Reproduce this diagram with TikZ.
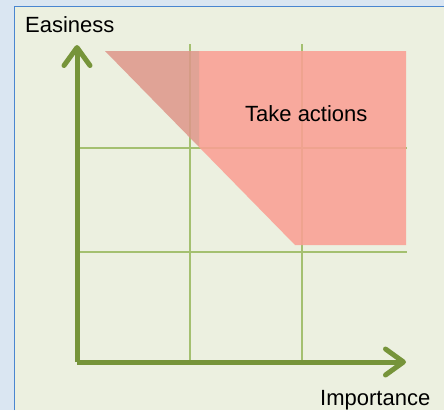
\documentclass[tikz,border=0pt]{standalone}
\usepackage{fontspec}
\setmainfont{Liberation Sans}
\usepackage{xcolor}
\usepackage{tikz}
\usetikzlibrary{arrows.meta, positioning}

\definecolor{panelbg}{RGB}{236,240,224}
\definecolor{outerbg}{RGB}{218,230,242}
\definecolor{frameblue}{RGB}{74,134,208}
\definecolor{axisgreen}{RGB}{118,148,58}
\definecolor{gridgreen}{RGB}{164,192,112}
\definecolor{zonered}{RGB}{250,160,148}
\definecolor{zonedark}{RGB}{222,150,138}

\tikzset{
    lbl/.style={font=\fontsize{22}{26}\selectfont, inner sep=0pt},
    gridline/.style={draw=gridgreen, line width=1.3pt},
    axis/.style={draw=axisgreen, line width=5pt,
        -{Straight Barb[length=18pt, width=26pt, round]}},
    zone/.style={fill=zonered, fill opacity=0.88},
}

\begin{document}
\begin{tikzpicture}[x=1pt, y=-1pt]
    \useasboundingbox (0,0) rectangle (444,410);
    % background and panel
    \fill[outerbg] (0,0) rectangle (444,410);
    \fill[panelbg] (14,6) rectangle (444,410);
    \draw[frameblue, line width=1pt] (14,410) -- (14,6) -- (444,6);

    % grid
    \draw[gridline] (190,44) -- (190,362);
    \draw[gridline] (302,44) -- (302,362);
    \draw[gridline] (80,148) -- (407,148);
    \draw[gridline] (80,252) -- (407,252);

    % action zone
    \fill[zone] (199,51) -- (406,51) -- (406,245) -- (295,245) -- (199,147) -- cycle;
    \fill[zonedark, fill opacity=0.85] (105,51) -- (199,51) -- (199,147) -- cycle;

    % axes
    \coordinate (o) at (77,362);
    \coordinate (ytip) at (77,45);
    \coordinate (xtip) at (406,362);
    \draw[axis] (o) -- (ytip);
    \draw[axis] (o) -- (xtip);

    % labels
    \node (easy) [lbl, anchor=base west] at (25,32) {Easiness};
    \node (act) [lbl, anchor=base west] at (245,121) {Take actions};
    \node (imp) [lbl, anchor=base west] at (320,405) {Importance};
\end{tikzpicture}
\end{document}
